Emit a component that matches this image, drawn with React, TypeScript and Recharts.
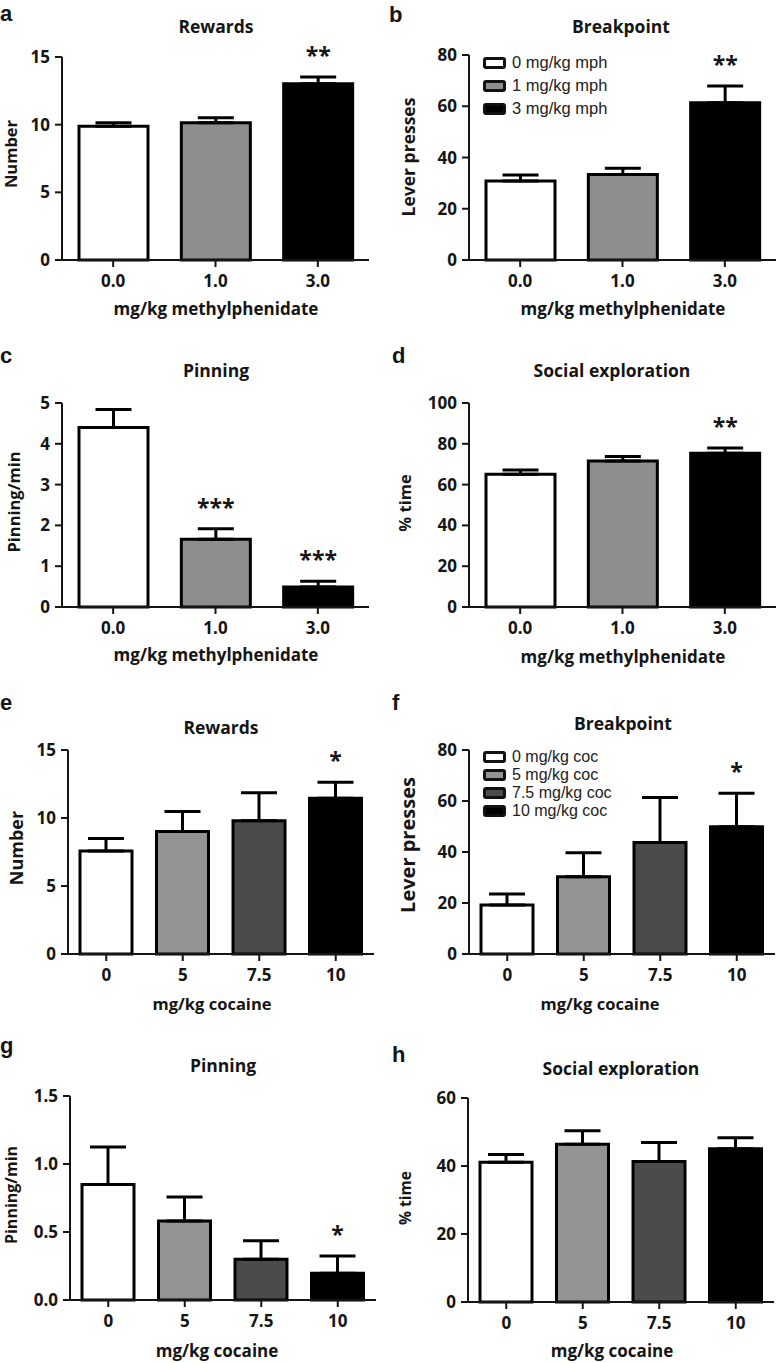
import React from 'react';
import { BarChart, Bar, XAxis, YAxis, ErrorBar, Cell, LabelList, Legend } from 'recharts';

// doses and fills
const mphDoses = ['0.0', '1.0', '3.0'];
const cocDoses = ['0', '5', '7.5', '10'];
const mphFills = ['#ffffff', '#8e8e8e', '#000000'];
const cocFills = ['#ffffff', '#939393', '#4b4b4b', '#000000'];
const mphLegendLabels = ['0 mg/kg mph', '1 mg/kg mph', '3 mg/kg mph'];
const cocLegendLabels = ['0 mg/kg coc', '5 mg/kg coc', '7.5 mg/kg coc', '10 mg/kg coc'];

// a
const mphRewards = [9.88, 10.15, 13.03];
const mphRewardsSem = [0.27, 0.37, 0.49];
const mphRewardsSig = ['', '', '**'];
// b
const mphBreakpoint = [30.8, 33.4, 61.4];
const mphBreakpointSem = [2.4, 2.4, 6.5];
const mphBreakpointSig = ['', '', '**'];
// c
const mphPinning = [4.4, 1.66, 0.49];
const mphPinningSem = [0.44, 0.26, 0.14];
const mphPinningSig = ['', '***', '***'];
// d
const mphSocial = [65.1, 71.6, 75.4];
const mphSocialSem = [2.1, 2.2, 2.5];
const mphSocialSig = ['', '', '**'];
// e
const cocRewards = [7.57, 9.0, 9.8, 11.45];
const cocRewardsSem = [0.93, 1.47, 2.06, 1.17];
const cocRewardsSig = ['', '', '', '*'];
// f
const cocBreakpoint = [19.2, 30.3, 43.7, 49.9];
const cocBreakpointSem = [4.3, 9.4, 17.7, 13.1];
const cocBreakpointSig = ['', '', '', '*'];
// g
const cocPinning = [0.85, 0.58, 0.3, 0.196];
const cocPinningSem = [0.275, 0.177, 0.135, 0.127];
const cocPinningSig = ['', '', '', '*'];
// h
const cocSocial = [41.1, 46.4, 41.3, 45.1];
const cocSocialSem = [2.3, 4.0, 5.6, 3.2];
const cocSocialSig = ['', '', '', ''];

// y ticks
const ticksRewards = [0, 5, 10, 15];
const ticksBreakpoint = [0, 20, 40, 60, 80];
const ticksMphPinning = [0, 1, 2, 3, 4, 5];
const ticksMphSocial = [0, 20, 40, 60, 80, 100];
const ticksCocPinning = [0, 0.5, 1.0, 1.5];
const ticksCocSocial = [0, 20, 40, 60];

const FONT = '"Open Sans", "DejaVu Sans", sans-serif';
const INK = '#151515';
const YW = 60;
const MT = 30;
const MR = 8;
const XH = 34;

type PanelProps = {
  doses: string[];
  values: number[];
  sem: number[];
  sig: string[];
  fills: string[];
  yTicks: number[];
  yFmt?: (v: number) => string;
  plotLeft: number;
  plotTop: number;
  plotW: number;
  plotH: number;
  barSize: number;
  legend?: { labels: string[]; left: number; top: number; rowH: number; boxH: number; fontSize: number };
};

function Panel(p: PanelProps) {
  const data = p.doses.map((d, i) => ({ dose: d, value: p.values[i], err: [0, p.sem[i]], sig: p.sig[i], sem: p.sem[i] }));
  const width = YW + p.plotW + MR;
  const height = MT + p.plotH + XH;
  const chartLeft = p.plotLeft - YW;
  const chartTop = p.plotTop - MT;

  // significance stars sit above the error bar cap
  const renderSig = (props: any) => {
    const vb = props.viewBox && props.viewBox.width != null ? props.viewBox : props;
    const row = data.find((r) => r.dose === props.value);
    if (!row || !row.sig) return null;
    const pxPerUnit = vb.height / row.value;
    const errTop = vb.y - row.sem * pxPerUnit;
    return (
      <text x={vb.x + vb.width / 2} y={errTop - 13} textAnchor="middle" fontSize={23} fontWeight={700} fontFamily={FONT} fill={INK}>
        {row.sig}
      </text>
    );
  };

  const lg = p.legend;
  const renderLegend = () =>
    lg ? (
      <div style={{ fontFamily: '"Liberation Sans", Arial, sans-serif', fontSize: lg.fontSize, color: '#222' }}>
        {lg.labels.map((l, i) => (
          <div key={l} style={{ display: 'flex', alignItems: 'center', height: lg.rowH, whiteSpace: 'nowrap' }}>
            <span
              style={{
                display: 'inline-block',
                width: 23,
                height: lg.boxH,
                boxSizing: 'border-box',
                border: '3px solid #111',
                borderRadius: 3,
                background: p.fills[i],
                marginRight: 6,
              }}
            />
            <span>{l}</span>
          </div>
        ))}
      </div>
    ) : null;

  return (
    <div style={{ position: 'absolute', left: chartLeft, top: chartTop }}>
      <BarChart width={width} height={height} data={data} margin={{ top: MT, right: MR, left: 0, bottom: 0 }}>
        <XAxis
          dataKey="dose"
          type="category"
          height={XH}
          interval={0}
          tickSize={7}
          tickMargin={8}
          axisLine={{ stroke: INK, strokeWidth: 2 }}
          tickLine={{ stroke: INK, strokeWidth: 2 }}
          tick={{ fill: INK, fontSize: 17, fontWeight: 700, fontFamily: FONT }}
        />
        <YAxis
          type="number"
          width={YW}
          domain={[0, p.yTicks[p.yTicks.length - 1]]}
          ticks={p.yTicks}
          interval={0}
          tickSize={7}
          tickMargin={5}
          tickFormatter={p.yFmt}
          axisLine={{ stroke: INK, strokeWidth: 2 }}
          tickLine={{ stroke: INK, strokeWidth: 2 }}
          tick={{ fill: INK, fontSize: 17, fontWeight: 700, fontFamily: FONT }}
        />
        {lg && (
          <Legend
            layout="vertical"
            align="center"
            verticalAlign="middle"
            content={renderLegend}
            wrapperStyle={{ left: lg.left - chartLeft, top: lg.top - chartTop, width: 'auto', height: 'auto' }}
          />
        )}
        <Bar dataKey="value" barSize={p.barSize} stroke="#000" strokeWidth={3} isAnimationActive={false}>
          {data.map((d, i) => (
            <Cell key={d.dose} fill={p.fills[i]} />
          ))}
          <ErrorBar dataKey="err" direction="y" width={18} stroke="#000" strokeWidth={3} />
          <LabelList dataKey="dose" content={renderSig} />
        </Bar>
      </BarChart>
    </div>
  );
}

type T = { x: number; y: number; s: string; size: number; rot?: boolean; anchor?: string; family?: string };

const LETTER = '"Liberation Sans", Arial, sans-serif';

export default function App() {
  const texts: T[] = [
    // panel letters
    { x: 0, y: 21, s: 'a', size: 22, anchor: 'start', family: LETTER },
    { x: 389, y: 22, s: 'b', size: 22, anchor: 'start', family: LETTER },
    { x: 0, y: 363, s: 'c', size: 22, anchor: 'start', family: LETTER },
    { x: 392, y: 363, s: 'd', size: 22, anchor: 'start', family: LETTER },
    { x: 0, y: 710, s: 'e', size: 22, anchor: 'start', family: LETTER },
    { x: 392, y: 710, s: 'f', size: 22, anchor: 'start', family: LETTER },
    { x: 0, y: 1053, s: 'g', size: 22, anchor: 'start', family: LETTER },
    { x: 392, y: 1062, s: 'h', size: 22, anchor: 'start', family: LETTER },
    // titles
    { x: 216, y: 33, s: 'Rewards', size: 17.5 },
    { x: 621, y: 33, s: 'Breakpoint', size: 17.5 },
    { x: 216, y: 377, s: 'Pinning', size: 17.5 },
    { x: 612, y: 377, s: 'Social exploration', size: 17.5 },
    { x: 221, y: 734, s: 'Rewards', size: 17.5 },
    { x: 623, y: 730, s: 'Breakpoint', size: 17.5 },
    { x: 223, y: 1072, s: 'Pinning', size: 17.5 },
    { x: 621, y: 1075, s: 'Social exploration', size: 17.5 },
    // x titles
    { x: 216, y: 315, s: 'mg/kg methylphenidate', size: 17 },
    { x: 623, y: 315, s: 'mg/kg methylphenidate', size: 17 },
    { x: 216, y: 661, s: 'mg/kg methylphenidate', size: 17 },
    { x: 623, y: 663, s: 'mg/kg methylphenidate', size: 17 },
    { x: 212, y: 1010, s: 'mg/kg cocaine', size: 16.5 },
    { x: 600, y: 1010, s: 'mg/kg cocaine', size: 16.5 },
    { x: 217, y: 1357, s: 'mg/kg cocaine', size: 17 },
    { x: 612, y: 1357, s: 'mg/kg cocaine', size: 17 },
    // y titles
    { x: 17, y: 154, s: 'Number', size: 16.5, rot: true },
    { x: 415, y: 157, s: 'Lever presses', size: 17.5, rot: true },
    { x: 20, y: 502, s: 'Pinning/min', size: 16.5, rot: true },
    { x: 411, y: 503, s: '% time', size: 16.5, rot: true },
    { x: 23, y: 848, s: 'Number', size: 18, rot: true },
    { x: 415, y: 845, s: 'Lever presses', size: 20, rot: true },
    { x: 17, y: 1195, s: 'Pinning/min', size: 16, rot: true },
    { x: 411, y: 1198, s: '% time', size: 15.5, rot: true },
  ];

  return (
    <div style={{ position: 'absolute', left: 0, top: 0, width: 778, height: 1363, background: '#fff', overflow: 'hidden' }}>
      <Panel doses={mphDoses} values={mphRewards} sem={mphRewardsSem} sig={mphRewardsSig} fills={mphFills}
        yTicks={ticksRewards} plotLeft={62} plotTop={57} plotW={307} plotH={203} barSize={69} />
      <Panel doses={mphDoses} values={mphBreakpoint} sem={mphBreakpointSem} sig={mphBreakpointSig} fills={mphFills}
        yTicks={ticksBreakpoint} plotLeft={469} plotTop={55} plotW={307} plotH={205} barSize={69}
        legend={{ labels: mphLegendLabels, left: 483, top: 51, rowH: 23, boxH: 12, fontSize: 16.5 }} />
      <Panel doses={mphDoses} values={mphPinning} sem={mphPinningSem} sig={mphPinningSig} fills={mphFills}
        yTicks={ticksMphPinning} plotLeft={62} plotTop={403} plotW={307} plotH={204} barSize={69} />
      <Panel doses={mphDoses} values={mphSocial} sem={mphSocialSem} sig={mphSocialSig} fills={mphFills}
        yTicks={ticksMphSocial} plotLeft={469} plotTop={403} plotW={307} plotH={204} barSize={69} />
      <Panel doses={cocDoses} values={cocRewards} sem={cocRewardsSem} sig={cocRewardsSig} fills={cocFills}
        yTicks={ticksRewards} plotLeft={68} plotTop={750} plotW={306} plotH={204} barSize={52} />
      <Panel doses={cocDoses} values={cocBreakpoint} sem={cocBreakpointSem} sig={cocBreakpointSig} fills={cocFills}
        yTicks={ticksBreakpoint} plotLeft={469} plotTop={750} plotW={306} plotH={204} barSize={52}
        legend={{ labels: cocLegendLabels, left: 483, top: 748, rowH: 18, boxH: 12, fontSize: 16 }} />
      <Panel doses={cocDoses} values={cocPinning} sem={cocPinningSem} sig={cocPinningSig} fills={cocFills}
        yTicks={ticksCocPinning} yFmt={(v) => v.toFixed(1)} plotLeft={70} plotTop={1096} plotW={306} plotH={204} barSize={52} />
      <Panel doses={cocDoses} values={cocSocial} sem={cocSocialSem} sig={cocSocialSig} fills={cocFills}
        yTicks={ticksCocSocial} plotLeft={468} plotTop={1098} plotW={306} plotH={204} barSize={52} />
      <svg width={778} height={1363} style={{ position: 'absolute', left: 0, top: 0, pointerEvents: 'none' }}>
        {texts.map((t, i) => (
          <text
            key={i}
            x={t.x}
            y={t.y}
            fontSize={t.size}
            fontWeight={700}
            fontFamily={t.family || FONT}
            fill={INK}
            textAnchor={t.anchor || 'middle'}
            transform={t.rot ? `rotate(-90 ${t.x} ${t.y})` : undefined}
          >
            {t.s}
          </text>
        ))}
      </svg>
    </div>
  );
}
